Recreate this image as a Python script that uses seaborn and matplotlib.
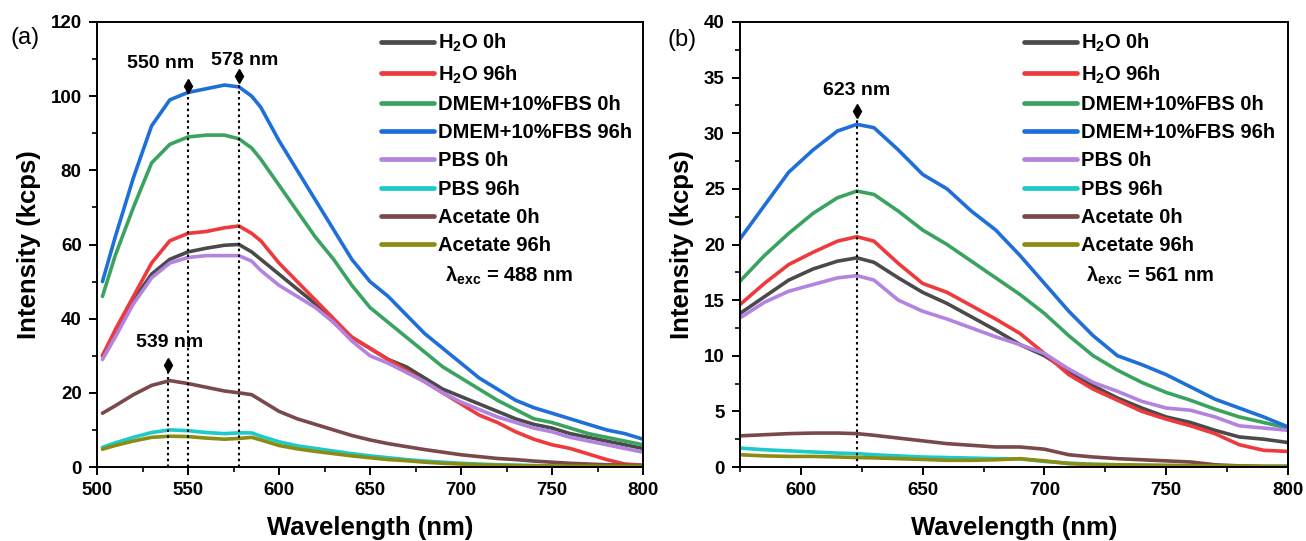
import numpy as np
import pandas as pd
import matplotlib
matplotlib.use("Agg")
import matplotlib.pyplot as plt
import seaborn as sns
from matplotlib.ticker import MultipleLocator

# ---------------- data ----------------
series = ["H$_2$O 0h", "H$_2$O 96h", "DMEM+10%FBS 0h", "DMEM+10%FBS 96h",
          "PBS 0h", "PBS 96h", "Acetate 0h", "Acetate 96h"]
colors = ["#4a4a4a", "#ee3a3c", "#3aa360", "#1f6fd8",
          "#b283e0", "#1ccaca", "#7a4a4a", "#8c8c14"]

wl_a = [503, 510, 520, 530, 540, 550, 560, 570, 578, 585, 590, 600, 610, 620, 630, 640,
        650, 660, 670, 680, 690, 700, 710, 720, 730, 740, 750, 760, 770, 780, 790, 800]
a_h2o_0 = [30, 36, 45, 52, 56, 58, 59, 59.8, 60, 58, 56, 52, 48, 44, 39, 35,
           32, 29, 27, 24, 21, 19, 17, 15, 13, 11.5, 10.5, 9, 8, 7, 6, 5]
a_h2o_96 = [30, 37, 46, 55, 61, 63, 63.5, 64.5, 65, 63, 61, 55, 50, 45, 40, 35,
            32, 29, 26, 23, 20, 17, 14, 12, 9.5, 7.5, 6, 5, 3.5, 2, 0.8, 0.5]
a_dmem_0 = [46, 57, 70, 82, 87, 89, 89.5, 89.5, 88.5, 86, 83, 76, 69, 62, 56, 49,
            43, 39, 35, 31, 27, 24, 21, 18, 15.5, 13, 12, 10.5, 9, 8, 7, 6]
a_dmem_96 = [50, 62, 78, 92, 99, 101, 102, 103, 102.5, 100, 97, 88, 80, 72, 64, 56,
             50, 46, 41, 36, 32, 28, 24, 21, 18, 16, 14.5, 13, 11.5, 10, 9, 7.5]
a_pbs_0 = [29, 35, 44, 51, 55, 56.5, 57, 57, 57, 55.5, 53, 49, 46, 43, 39, 34,
           30, 28, 25.5, 23, 20, 17.5, 15.5, 13.5, 12, 10.5, 9.5, 8, 7, 6, 5, 4]
a_pbs_96 = [5.3, 6.5, 8, 9.3, 10, 9.8, 9.3, 9, 9.2, 9.2, 8.3, 6.8, 5.7, 5, 4.3, 3.6,
            3, 2.5, 2, 1.6, 1.3, 1, 0.8, 0.6, 0.5, 0.4, 0.3, 0.3, 0.2, 0.2, 0.2, 0.2]
a_ace_0 = [14.5, 16.5, 19.5, 22, 23.3, 22.5, 21.5, 20.5, 20, 19.5, 18, 15, 13, 11.5, 10, 8.5,
           7.3, 6.3, 5.5, 4.7, 4, 3.3, 2.8, 2.3, 2, 1.6, 1.3, 1, 0.8, 0.6, 0.5, 0.4]
a_ace_96 = [4.8, 5.8, 7, 8, 8.3, 8.2, 7.8, 7.5, 7.7, 8, 7.3, 5.8, 4.9, 4.2, 3.6, 3,
            2.5, 2, 1.7, 1.3, 1, 0.8, 0.6, 0.5, 0.4, 0.3, 0.3, 0.2, 0.2, 0.2, 0.2, 0.2]

wl_b = [575, 585, 595, 605, 615, 623, 630, 640, 650, 660, 670, 680, 690, 700, 710, 720,
        730, 740, 750, 760, 770, 780, 790, 800]
b_h2o_0 = [13.8, 15.3, 16.8, 17.8, 18.5, 18.8, 18.4, 17, 15.7, 14.7, 13.5, 12.3, 11, 10, 8.6, 7.3,
           6.2, 5.3, 4.5, 4, 3.3, 2.7, 2.5, 2.2]
b_h2o_96 = [14.6, 16.5, 18.2, 19.3, 20.3, 20.7, 20.3, 18.3, 16.5, 15.7, 14.5, 13.3, 12, 10.2, 8.3, 7,
            6, 5, 4.3, 3.7, 3, 2, 1.5, 1.4]
b_dmem_0 = [16.7, 19, 21, 22.8, 24.2, 24.8, 24.5, 23, 21.3, 20, 18.5, 17, 15.5, 13.8, 11.8, 10,
            8.7, 7.6, 6.7, 6, 5.2, 4.5, 4, 3.5]
b_dmem_96 = [20.5, 23.5, 26.5, 28.5, 30.2, 30.8, 30.5, 28.5, 26.3, 25, 23, 21.3, 19, 16.5, 14, 11.8,
             10, 9.2, 8.3, 7.2, 6.1, 5.3, 4.5, 3.6]
b_pbs_0 = [13.4, 14.8, 15.8, 16.4, 17, 17.2, 16.8, 15, 14, 13.3, 12.5, 11.7, 11, 10.2, 8.8, 7.6,
           6.8, 5.9, 5.3, 5.1, 4.5, 3.7, 3.5, 3.3]
b_pbs_96 = [1.7, 1.55, 1.45, 1.35, 1.25, 1.2, 1.1, 1.0, 0.9, 0.85, 0.8, 0.75, 0.72, 0.5, 0.35, 0.25,
            0.2, 0.15, 0.12, 0.1, 0.08, 0.05, 0.05, 0.05]
b_ace_0 = [2.8, 2.9, 3.0, 3.05, 3.05, 3.0, 2.85, 2.6, 2.35, 2.1, 1.95, 1.8, 1.8, 1.6, 1.1, 0.9,
           0.75, 0.65, 0.55, 0.45, 0.2, 0.1, 0.05, 0.05]
b_ace_96 = [1.1, 1.0, 0.95, 0.95, 0.9, 0.85, 0.82, 0.75, 0.68, 0.6, 0.6, 0.65, 0.75, 0.55, 0.3, 0.22,
            0.2, 0.17, 0.15, 0.12, 0.1, 0.08, 0.05, 0.05]

peaks_a = [550, 578]
peak_tops_a = [102.7, 105.4]
peaks_a_low = [539]
peak_tops_a_low = [27.5]
peaks_b = [623]
peak_tops_b = [32.0]

# ---------------- style ----------------
sns.set_theme(style="ticks")
plt.rcParams["font.family"] = ["Liberation Sans", "DejaVu Sans"]
plt.rcParams["font.weight"] = "bold"
plt.rcParams["mathtext.fontset"] = "custom"
plt.rcParams["mathtext.rm"] = "Liberation Sans:bold"
plt.rcParams["mathtext.bf"] = "Liberation Sans:bold"
plt.rcParams["mathtext.it"] = "Liberation Sans:bold"
plt.rcParams["mathtext.default"] = "bf"
for k in ["text.color", "axes.labelcolor", "xtick.color", "ytick.color", "axes.edgecolor"]:
    plt.rcParams[k] = "black"

palette = dict(zip(series, colors))


def long_df(wl, cols):
    rows = []
    for name, vals in zip(series, cols):
        for x, y in zip(wl, vals):
            rows.append((name, x, y))
    return pd.DataFrame(rows, columns=["series", "wl", "I"])


df_a = long_df(wl_a, [a_h2o_0, a_h2o_96, a_dmem_0, a_dmem_96, a_pbs_0, a_pbs_96, a_ace_0, a_ace_96])
df_b = long_df(wl_b, [b_h2o_0, b_h2o_96, b_dmem_0, b_dmem_96, b_pbs_0, b_pbs_96, b_ace_0, b_ace_96])

fig = plt.figure(figsize=(13.06, 5.41), dpi=100)
ax_a = fig.add_axes([97 / 1306, 74 / 541, 546 / 1306, 445 / 541])
ax_b = fig.add_axes([740 / 1306, 74 / 541, 548 / 1306, 445 / 541])


def draw(ax, df, xlim, ylim, xmaj, ymaj, ymin, exc, leg_x, exc_x):
    sns.lineplot(data=df, x="wl", y="I", hue="series", hue_order=series, palette=palette,
                 linewidth=2.6, ax=ax, legend=True, sort=True)
    old = ax.get_legend()
    handles = old.legend_handles
    labels = [t.get_text() for t in old.get_texts()]
    old.remove()
    for h in handles:
        h.set_linewidth(3.4)
    leg = ax.legend(handles, labels, loc="upper left", bbox_to_anchor=(leg_x, 0.978),
                    frameon=False, fontsize=14.5, handlelength=2.65, handletextpad=0.2,
                    labelspacing=0.46, borderaxespad=0.0, borderpad=0.0)
    for t in leg.get_texts():
        t.set_fontweight("bold")
    ax.text(exc_x, 0.429, r"$\mathregular{\lambda}_{\mathregular{exc}}$ = " + exc,
            transform=ax.transAxes, fontsize=14.5, fontweight="bold", ha="left", va="center")
    ax.set_xlim(*xlim)
    ax.set_ylim(*ylim)
    ax.xaxis.set_major_locator(MultipleLocator(xmaj))
    ax.xaxis.set_minor_locator(MultipleLocator(25))
    ax.yaxis.set_major_locator(MultipleLocator(ymaj))
    ax.yaxis.set_minor_locator(MultipleLocator(ymin))
    ax.tick_params(axis="both", which="major", direction="out", length=6, width=1.4,
                   labelsize=13.5, pad=5)
    ax.tick_params(axis="both", which="minor", direction="out", length=3.5, width=1.2)
    for lab in ax.get_xticklabels() + ax.get_yticklabels():
        lab.set_fontweight("bold")
    for s in ax.spines.values():
        s.set_linewidth(1.4)
        s.set_color("black")
    ax.set_xlabel("Wavelength (nm)", fontsize=18.5, fontweight="bold", labelpad=12)
    ax.set_ylabel("Intensity (kcps)", fontsize=18.5, fontweight="bold", labelpad=7)


draw(ax_a, df_a, (500, 800), (0, 120), 50, 20, 10, "488 nm", 0.520, 0.637)
draw(ax_b, df_b, (575, 800), (0, 40), 50, 5, 2.5, "561 nm", 0.518, 0.631)


def marker_line(ax, x, top, label, ly, lx=None):
    ax.plot([x, x], [0, top], linestyle=(0, (1.2, 1.6)), color="black", linewidth=1.5, zorder=5)
    ax.plot([x], [top], marker="d", markersize=7.5, color="black", zorder=6)
    if label:
        ax.text(lx if lx is not None else x, ly, label, ha="center", va="center",
                fontsize=14, fontweight="bold")


marker_line(ax_a, peaks_a[0], peak_tops_a[0], "550 nm", 108.9, 535)
marker_line(ax_a, peaks_a[1], peak_tops_a[1], "578 nm", 109.7, 581)
marker_line(ax_a, peaks_a_low[0], peak_tops_a_low[0], "539 nm", 33.5, 540)
marker_line(ax_b, peaks_b[0], peak_tops_b[0], "623 nm", 33.8, 623)

fig.text(10 / 1306, 1 - 38 / 541, "(a)", fontsize=17, fontweight="normal", ha="left", va="center")
fig.text(667 / 1306, 1 - 40 / 541, "(b)", fontsize=17, fontweight="normal", ha="left", va="center")

fig.savefig("out.png", dpi=100)
